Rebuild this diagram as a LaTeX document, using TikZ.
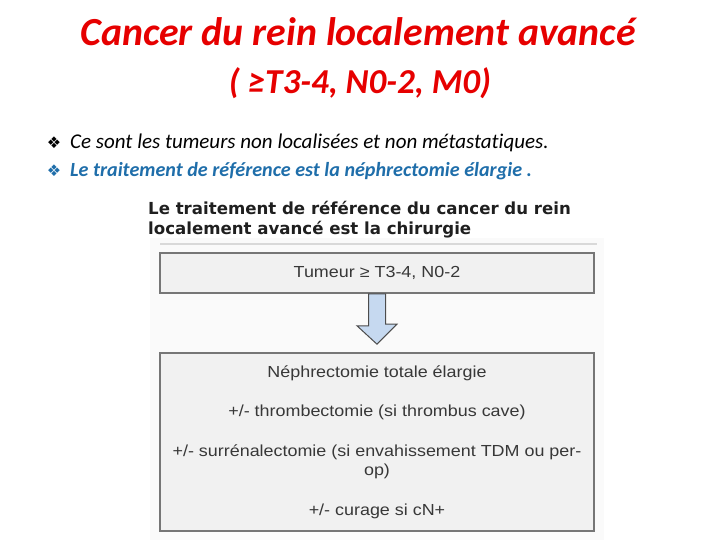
\documentclass[tikz,border=0pt]{standalone}
\usepackage{fontspec}
\setmainfont[Ligatures=NoCommon]{Carlito}
\newfontfamily\arialfont[FakeStretch=1.12]{Liberation Sans}
\newfontfamily\headfont{DejaVu Sans}
\usetikzlibrary{positioning,calc}
\definecolor{titlered}{RGB}{230,0,0}
\definecolor{refblue}{RGB}{31,110,170}
\definecolor{boxfill}{RGB}{241,241,241}
\definecolor{boxline}{RGB}{118,118,118}
\definecolor{arrowfill}{RGB}{198,217,240}

\begin{document}
\begin{tikzpicture}[x=1pt, y=-1pt,
    title/.style={text=titlered, inner sep=0pt},
    bulletmark/.style={inner sep=0pt, font=\headfont\fontsize{16}{18}\selectfont},
    item/.style={anchor=west, inner sep=0pt},
    flowbox/.style={rectangle, draw=boxline, line width=1.6pt, fill=boxfill, minimum width=434pt, text=black!78, align=center, font=\arialfont\fontsize{16}{19.5}\selectfont}]
    \useasboundingbox (0,0) rectangle (720,540);

    % Titre
    \node[title, font=\fontsize{39.8}{44}\selectfont\bfseries\itshape] (t1) at (358,32) {Cancer du rein localement avancé};
    \node[title, font=\fontsize{35}{40}\selectfont\bfseries\itshape] (t2) at (360,83) {( ≥T3-4, N0-2, M0)};

    % Puces
    \node[bulletmark] (b1) at (54,143) {❖};
    \node[item, font=\fontsize{21}{24}\selectfont\itshape] (i1) at (70,143) {Ce sont les tumeurs non localisées et non métastatiques.};
    \node[bulletmark, text=refblue] (b2) at (54,171) {❖};
    \node[item, text=refblue, font=\fontsize{20.1}{24}\selectfont\bfseries\itshape] (i2) at (70,171) {Le traitement de référence est la néphrectomie élargie .};

    % Figure (arbre de décision)
    \fill[black!2] (150,238) rectangle (604,540);
    \node[anchor=north west, align=left, inner sep=0pt, text=black!88, font=\headfont\bfseries\fontsize{16.6}{20}\selectfont] (head) at (148,201) {Le traitement de référence du cancer du rein\\localement avancé est la chirurgie};
    \draw[black!15, line width=2pt] (160,244) -- (597,244);

    \node[flowbox, minimum height=40pt] (tum) at (377,273) {Tumeur ≥ T3-4, N0-2};
    \node[flowbox, minimum height=178pt] (neph) at (377,442) {Néphrectomie totale élargie\\[20pt]
        +/- thrombectomie (si thrombus cave)\\[20pt]
        +/- surrénalectomie (si envahissement TDM ou per-\\op)\\[20pt]
        +/- curage si cN+};

    \draw[black!70, line width=1pt, fill=arrowfill]
        ($(tum.south)+(-8.5,0)$) -- ++(0,32) -- ++(-11.5,0) -- ($(neph.north)+(0,-8)$)
        -- ++(20,-20) -- ++(-11.5,0) -- ($(tum.south)+(8.5,0)$) -- cycle;
\end{tikzpicture}
\end{document}
